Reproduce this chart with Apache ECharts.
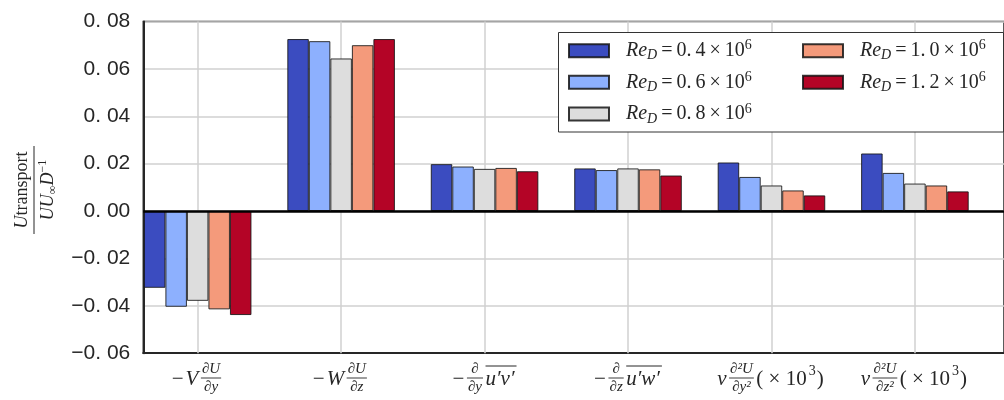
<!DOCTYPE html>
<html><head><meta charset="utf-8">
<script src="https://cdn.jsdelivr.net/npm/echarts@6/dist/echarts.min.js"></script>
<style>html,body{margin:0;padding:0;background:#fff}#c{width:1004px;height:400px}</style>
</head><body><div id="c"></div>
<script>
// ---- data ----
const categories = ['-V dU/dy', '-W dU/dz', '-d/dy u\'v\'', '-d/dz u\'w\'', 'nu d2U/dy2 (x1e3)', 'nu d2U/dz2 (x1e3)'];
const reLabels = ['0.4', '0.6', '0.8', '1.0', '1.2'];
const re04 = [-0.0324, 0.0726, 0.0198, 0.0180, 0.0205, 0.0243];
const re06 = [-0.0404, 0.0717, 0.0188, 0.0173, 0.0144, 0.0161];
const re08 = [-0.0379, 0.0644, 0.0178, 0.0180, 0.0108, 0.0116];
const re10 = [-0.0415, 0.0700, 0.0182, 0.0176, 0.0087, 0.0108];
const re12 = [-0.0439, 0.0726, 0.0168, 0.0150, 0.0066, 0.0083];
const yMin = -0.06, yMax = 0.08, yStep = 0.02;
// x tick label pieces (math text)
const labelSpecs = [
  [['t', '\u2212'], ['ti', 'V'], ['f', '\u2202U', '\u2202y']],
  [['t', '\u2212'], ['ti', 'W'], ['f', '\u2202U', '\u2202z']],
  [['t', '\u2212'], ['f', '\u2202', '\u2202y'], ['o', 'u\u2032v\u2032']],
  [['t', '\u2212'], ['f', '\u2202', '\u2202z'], ['o', 'u\u2032w\u2032']],
  [['ti', '\u03bd'], ['f', '\u2202\u00b2U', '\u2202y\u00b2'], ['t', '( \u00d7 10'], ['s', '3'], ['t', ')']],
  [['ti', '\u03bd'], ['f', '\u2202\u00b2U', '\u2202z\u00b2'], ['t', '( \u00d7 10'], ['s', '3'], ['t', ')']]
];

const seriesVals = [re04, re06, re08, re10, re12];
const colors = ['#3b4cc0', '#8db0fe', '#dddddd', '#f49a7b', '#b40426'];
const names = reLabels.map(r => 'Re_D=' + r);
const TEXT = '#262626';
const SERIF = '"Liberation Serif", "DejaVu Serif", serif';

const chart = echarts.init(document.getElementById('c'), null, {renderer: 'canvas'});
const X_MIN = -0.379, X_MAX = X_MIN + 6;

function fmtY(v) {
  let s = Math.abs(v).toFixed(2).replace('.', '. ');
  return (v < -1e-9 ? '\u2212' : '') + s;
}
function legendFmt(name) {
  const r = name.split('=')[1];
  return '{i|Re}{sub|D}{n|\u2009=\u2009' + r.replace('.', '.\u2009') + '\u2009\u00d7\u200910}{sup|6}';
}
const legendRich = {
  i: {fontFamily: SERIF, fontStyle: 'italic', fontSize: 20, color: TEXT, lineHeight: 24},
  sub: {fontFamily: SERIF, fontStyle: 'italic', fontSize: 14, color: TEXT, lineHeight: 16, verticalAlign: 'bottom'},
  n: {fontFamily: SERIF, fontSize: 20, color: TEXT, lineHeight: 24},
  sup: {fontFamily: SERIF, fontSize: 14, color: TEXT, lineHeight: 16, verticalAlign: 'top'}
};
function legendCfg(data, left) {
  return {
    orient: 'vertical', left: left, top: 38.7, padding: 0, itemGap: 7.6,
    itemWidth: 40, itemHeight: 13, icon: 'rect', data: data,
    formatter: legendFmt, selectedMode: false,
    textStyle: {rich: legendRich, padding: [0, 0, 0, 12]}
  };
}

const barSeries = seriesVals.map((vals, k) => ({
  type: 'bar', name: names[k],
  data: vals.map((v, i) => [i, v]),
  barGap: '0%', barCategoryGap: '25%', z: 2,
  itemStyle: {color: colors[k], borderColor: 'rgba(20,20,20,0.85)', borderWidth: 1}
}));

const option = {
  animation: false,
  grid: {left: 143.3, top: 21.5, width: 870, height: 331.7, show: true, borderColor: TEXT, borderWidth: 1.5, backgroundColor: 'transparent'},
  xAxis: {type: 'value', min: X_MIN, max: X_MAX,
    axisLine: {show: true, onZero: false, lineStyle: {color: TEXT, width: 2}},
    axisTick: {show: false}, axisLabel: {show: false}, splitLine: {show: false}},
  yAxis: {type: 'value', min: yMin, max: yMax, interval: yStep,
    axisLine: {show: true, onZero: false, lineStyle: {color: TEXT, width: 2}},
    axisTick: {show: false},
    axisLabel: {margin: 13, fontSize: 21, color: TEXT, fontFamily: '"Liberation Sans", Arial, sans-serif', formatter: fmtY},
    splitLine: {lineStyle: {color: '#d0d0d0', width: 1.5}}},
  legend: [legendCfg(names.slice(0, 3), 568), legendCfg(names.slice(3), 802)],
  series: barSeries.concat([
    {type: 'line', data: [], z: 1, silent: true,
     markLine: {silent: true, z: 1, symbol: ['none', 'none'], label: {show: false},
       lineStyle: {color: '#d0d0d0', width: 1.5, type: 'solid'},
       data: categories.map((c, i) => ({xAxis: i}))}},
    {type: 'line', data: [], z: 5, silent: true,
     markLine: {silent: true, z: 5, symbol: ['none', 'none'], label: {show: false},
       lineStyle: {color: '#000', width: 2.5, type: 'solid'},
       data: [{yAxis: 0}]}}
  ])
};
chart.setOption(option);

// ---- math labels, y title, legend frame ----
const mctx = document.createElement('canvas').getContext('2d');
function measure(t, font) { mctx.font = font; return mctx.measureText(t).width; }
const MAINF = 21, SMALLF = 15, SUPF = 14;
const fMainI = 'italic ' + MAINF + 'px ' + SERIF;
const fMainR = MAINF + 'px ' + SERIF;
const fSmall = 'italic ' + SMALLF + 'px ' + SERIF;
const fSup = SUPF + 'px ' + SERIF;
const Y_MAIN = 379, Y_NUM = 369.5, Y_DEN = 387, Y_FRAC = 378, Y_OVER = 366, Y_SUP = 371;

function buildLabel(spec, cx) {
  let x = 0; const els = [];
  spec.forEach(p => {
    if (p[0] === 'f') {
      const wn = measure(p[1], fSmall), wd = measure(p[2], fSmall);
      const fw = Math.max(wn, wd) + 3;
      els.push({type: 'text', x: x + fw / 2, y: Y_NUM, style: {text: p[1], font: fSmall, fill: TEXT, align: 'center', verticalAlign: 'middle'}});
      els.push({type: 'text', x: x + fw / 2, y: Y_DEN, style: {text: p[2], font: fSmall, fill: TEXT, align: 'center', verticalAlign: 'middle'}});
      els.push({type: 'line', shape: {x1: x + 0.5, y1: Y_FRAC, x2: x + fw - 0.5, y2: Y_FRAC}, style: {stroke: TEXT, lineWidth: 0.9}});
      x += fw + 2;
    } else if (p[0] === 's') {
      const wd = measure(p[1], fSup);
      els.push({type: 'text', x: x, y: Y_SUP, style: {text: p[1], font: fSup, fill: TEXT, align: 'left', verticalAlign: 'middle'}});
      x += wd + 1;
    } else {
      const font = p[0] === 't' ? fMainR : fMainI;
      const wd = measure(p[1], font);
      els.push({type: 'text', x: x, y: Y_MAIN, style: {text: p[1], font: font, fill: TEXT, align: 'left', verticalAlign: 'middle'}});
      if (p[0] === 'o') els.push({type: 'line', shape: {x1: x, y1: Y_OVER, x2: x + wd + 2, y2: Y_OVER}, style: {stroke: TEXT, lineWidth: 1}});
      x += wd + 2;
    }
  });
  return {type: 'group', x: cx - x / 2, y: 0, silent: true, children: els};
}

const gEls = labelSpecs.map((s, i) => buildLabel(s, chart.convertToPixel({xAxisIndex: 0}, i)));
gEls.push({type: 'rect', z: 3, silent: true, shape: {x: 558.5, y: 32.5, width: 445, height: 99.5},
  style: {fill: '#fff', stroke: '#333', lineWidth: 1}});
gEls.push({type: 'group', x: 34, y: 190, rotation: Math.PI / 2, silent: true, children: [
  {type: 'text', x: 0, y: -3, style: {text: '{i|U}{r|transport}', align: 'center', verticalAlign: 'bottom', fill: TEXT,
    rich: {i: {fontFamily: SERIF, fontStyle: 'italic', fontSize: 18, color: TEXT}, r: {fontFamily: SERIF, fontSize: 18, color: TEXT}}}},
  {type: 'line', shape: {x1: -44, y1: 0, x2: 44, y2: 0}, style: {stroke: TEXT, lineWidth: 1}},
  {type: 'text', x: 0, y: 3, style: {text: '{i|UU}{s|\u221e}{i|D}{sup|\u22121}', align: 'center', verticalAlign: 'top', fill: TEXT,
    rich: {i: {fontFamily: SERIF, fontStyle: 'italic', fontSize: 18, color: TEXT, lineHeight: 22},
      s: {fontFamily: SERIF, fontSize: 12, color: TEXT, lineHeight: 13, verticalAlign: 'bottom'},
      sup: {fontFamily: SERIF, fontSize: 12, color: TEXT, lineHeight: 13, verticalAlign: 'top'}}}}
]});
chart.setOption({graphic: {elements: gEls}});
</script></body></html>
